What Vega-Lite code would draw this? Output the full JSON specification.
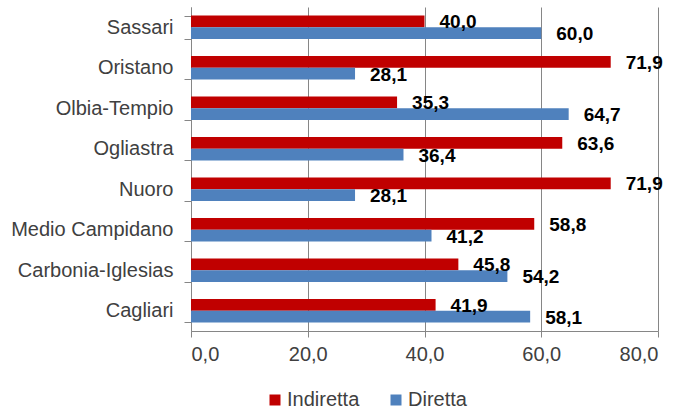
{
  "$schema": "https://vega.github.io/schema/vega-lite/v6.json",
  "width": 467,
  "height": 324,
  "autosize": "none",
  "padding": {"left": 191, "top": 7, "right": 18, "bottom": 76},
  "background": "white",
  "config": {
    "locale": {"number": {"decimal": ",", "thousands": ".", "grouping": [3], "currency": ["€", ""]}},
    "view": {"stroke": null},
    "font": "Liberation Sans"
  },
  "data": {
    "values": [
      {"provincia": "Sassari", "tipo": "Indiretta", "valore": 40.0},
      {"provincia": "Sassari", "tipo": "Diretta", "valore": 60.0},
      {"provincia": "Oristano", "tipo": "Indiretta", "valore": 71.9},
      {"provincia": "Oristano", "tipo": "Diretta", "valore": 28.1},
      {"provincia": "Olbia-Tempio", "tipo": "Indiretta", "valore": 35.3},
      {"provincia": "Olbia-Tempio", "tipo": "Diretta", "valore": 64.7},
      {"provincia": "Ogliastra", "tipo": "Indiretta", "valore": 63.6},
      {"provincia": "Ogliastra", "tipo": "Diretta", "valore": 36.4},
      {"provincia": "Nuoro", "tipo": "Indiretta", "valore": 71.9},
      {"provincia": "Nuoro", "tipo": "Diretta", "valore": 28.1},
      {"provincia": "Medio Campidano", "tipo": "Indiretta", "valore": 58.8},
      {"provincia": "Medio Campidano", "tipo": "Diretta", "valore": 41.2},
      {"provincia": "Carbonia-Iglesias", "tipo": "Indiretta", "valore": 45.8},
      {"provincia": "Carbonia-Iglesias", "tipo": "Diretta", "valore": 54.2},
      {"provincia": "Cagliari", "tipo": "Indiretta", "valore": 41.9},
      {"provincia": "Cagliari", "tipo": "Diretta", "valore": 58.1}
    ]
  },
  "encoding": {
    "y": {
      "field": "provincia",
      "type": "nominal",
      "sort": null,
      "scale": {"paddingInner": 0.42, "paddingOuter": 0.21},
      "axis": {
        "title": null,
        "labelFontSize": 20,
        "labelColor": "#404040",
        "labelPadding": 11,
        "tickSize": 7,
        "tickColor": "#868686",
        "domainColor": "#868686",
        "tickBand": "extent",
        "grid": false
      }
    },
    "yOffset": {"field": "tipo", "type": "nominal", "sort": ["Indiretta", "Diretta"], "scale": {"paddingInner": 0, "paddingOuter": 0}},
    "x": {
      "field": "valore",
      "type": "quantitative",
      "scale": {"domain": [0, 80], "nice": false},
      "axis": {
        "title": null,
        "values": [0, 20, 40, 60, 80],
        "format": ".1f",
        "labelFontSize": 20,
        "labelColor": "#404040",
        "labelPadding": 7,
        "tickSize": 6,
        "tickColor": "#868686",
        "domainColor": "#868686",
        "gridColor": "#868686",
        "grid": true
      }
    }
  },
  "layer": [
    {
      "mark": {"type": "bar"},
      "encoding": {
        "color": {
          "field": "tipo",
          "type": "nominal",
          "scale": {"domain": ["Indiretta", "Diretta"], "range": ["#C00000", "#4F81BD"]},
          "legend": {
            "title": null,
            "orient": "none",
            "direction": "horizontal",
            "legendX": 74,
            "legendY": 383,
            "symbolType": "square",
            "symbolSize": 121,
            "symbolStrokeWidth": 0,
            "labelFontSize": 20,
            "labelColor": "#404040",
            "labelOffset": 2,
            "columnPadding": 26
          }
        }
      }
    },
    {
      "mark": {"type": "text", "align": "left", "baseline": "middle", "dx": 15, "dy": 1, "fontSize": 19, "fontWeight": "bold", "color": "black"},
      "encoding": {
        "text": {"field": "valore", "type": "quantitative", "format": ".1f"}
      }
    }
  ]
}
